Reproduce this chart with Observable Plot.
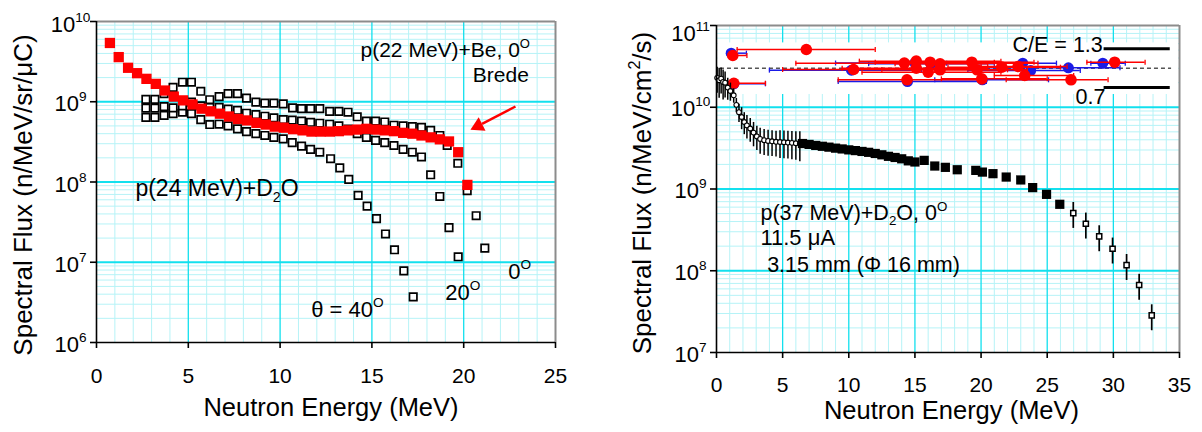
<!DOCTYPE html>
<html>
<head>
<meta charset="utf-8">
<script src="https://cdn.jsdelivr.net/npm/d3@7"></script>
<script src="https://cdn.jsdelivr.net/npm/@observablehq/plot@0.6"></script>
<style>
  html, body { margin: 0; padding: 0; background: #fff; }
  #chart { position: relative; width: 1202px; height: 432px; overflow: hidden; background: #fff; }
  #chart svg { position: absolute; left: 0; top: 0; }
</style>
</head>
<body>
<div id="chart"></div>
<script>
// ================= LEFT PANEL DATA =================
const leftXTicks = [0, 5, 10, 15, 20, 25];
const leftYTicks = [1e6, 1e7, 1e8, 1e9, 1e10];

// p(22 MeV)+Be, 0 deg (Brede) - red filled squares
const bredeE = [0.73,1.21,1.72,2.21,2.72,3.23,3.72,4.21,4.72,5.23,5.72,6.21,6.72,7.22,7.71,8.2,8.71,9.22,9.71,10.2,
                10.71,11.22,11.71,12.2,12.71,13.2,13.7,14.2,14.7,15.2,15.7,16.2,16.7,17.2,17.7,18.2,18.7,19.2,19.7,20.2];
const bredeFlux = [5.4e9,3.6e9,2.65e9,2.27e9,1.93e9,1.67e9,1.38e9,1.16e9,1.04e9,9.25e8,8.2e8,7.6e8,7.1e8,6.55e8,6.1e8,5.85e8,5.45e8,5.2e8,4.9e8,4.75e8,
                   4.55e8,4.4e8,4.25e8,4.25e8,4.25e8,4.3e8,4.4e8,4.5e8,4.6e8,4.5e8,4.4e8,4.3e8,4.1e8,4.0e8,3.8e8,3.6e8,3.4e8,3.2e8,2.35e8,9.2e7];

// p(24 MeV)+D2O - open squares, three angles
const deg0E = [2.69,3.18,3.68,4.17,4.68,5.17,5.68,6.17,6.68,7.17,7.68,8.17,8.68,9.17,9.66,10.17,10.68,11.17,11.66,12.16,
               12.7,13.2,13.7,14.2,14.7,15.2,15.7,16.2,16.7,17.2,17.7,18.2,18.7,19.1,19.68,20.19,20.68,21.15];
const deg0Flux = [1.07e9,1.07e9,1.26e9,1.51e9,1.75e9,1.75e9,1.35e9,1.06e9,1.16e9,1.26e9,1.26e9,1.11e9,9.9e8,9.6e8,9.6e8,9.4e8,8.4e8,8.2e8,8.2e8,8.2e8,
                  7.6e8,7.6e8,7.4e8,6.5e8,5.75e8,5.75e8,5.6e8,5.1e8,5.0e8,4.9e8,4.8e8,4.4e8,3.8e8,2.85e8,1.71e8,7.8e7,3.8e7,1.5e7];
const deg20E = [2.69,3.18,3.68,4.17,4.68,5.17,5.68,6.17,6.68,7.17,7.68,8.17,8.68,9.17,9.66,10.17,10.66,11.17,11.66,12.16,
                12.7,13.2,13.7,14.2,14.7,15.2,15.7,16.2,16.7,17.2,17.7,18.2,18.7,19.2,19.7];
const deg20Flux = [8.3e8,8.3e8,8.7e8,8.4e8,8.9e8,9.9e8,8.9e8,8.5e8,8.5e8,8.1e8,7.8e8,7.2e8,6.9e8,6.6e8,6.3e8,6.0e8,5.9e8,5.75e8,5.55e8,5.4e8,
                   5.25e8,5.0e8,4.55e8,4.0e8,3.6e8,3.3e8,3.1e8,2.85e8,2.55e8,2.35e8,2.05e8,1.23e8,6.6e7,2.7e7,1.17e7];
const deg40E = [2.69,3.18,3.68,4.17,4.68,5.17,5.68,6.17,6.68,7.17,7.68,8.17,8.68,9.17,9.66,10.17,10.66,11.17,11.66,12.16,
                12.75,13.25,13.74,14.25,14.74,15.25,15.74,16.23,16.74,17.25];
const deg40Flux = [6.4e8,6.4e8,6.75e8,7.1e8,7.4e8,7.1e8,6.0e8,5.2e8,5.25e8,5.0e8,4.6e8,4.25e8,4.0e8,3.8e8,3.6e8,3.45e8,3.1e8,2.8e8,2.55e8,2.35e8,
                   1.95e8,1.5e8,1.08e8,6.8e7,5.0e7,3.5e7,2.25e7,1.43e7,7.8e6,3.7e6];

// ================= RIGHT PANEL DATA =================
const rightXTicks = [0, 5, 10, 15, 20, 25, 30, 35];
const rightYTicks = [1e7, 1e8, 1e9, 1e10, 1e11];

// p(37 MeV)+D2O, 0 deg: open circles (low energy) with relative errors
const circE = [0.05,0.2,0.35,0.5,0.65,0.85,1.05,1.3,1.5,1.7,1.9,2.1,2.3,2.55,2.8,3.05,3.3,3.6,3.9,4.2,4.5,4.8,5.1,5.4,5.7,6.0,6.3];
const circFlux = [2.29e10,2.14e10,2.24e10,2.04e10,2.0e10,1.74e10,1.58e10,1.4e10,1.07e10,8.7e9,7.6e9,6.6e9,6.0e9,5.5e9,4.9e9,4.4e9,4.1e9,3.96e9,3.87e9,3.83e9,3.78e9,3.76e9,3.73e9,3.7e9,3.67e9,3.63e9,3.59e9];
const circErr = [0.35,0.4,0.35,0.4,0.35,0.3,0.25,0.2,0.2,0.25,0.3,0.3,0.32,0.32,0.33,0.33,0.35,0.35,0.35,0.35,0.35,0.37,0.37,0.37,0.38,0.38,0.4];
// filled squares
const fillE = [6.5,7,7.5,8,8.5,9,9.5,10,10.5,11,11.5,12,12.5,13,13.5,14,14.5,15.0,15.7,16.5,17.3,18.2,19.6,20.1,20.9,21.9,23.0,23.9,24.95,25.95];
const fillFlux = [3.6e9,3.51e9,3.41e9,3.33e9,3.25e9,3.16e9,3.09e9,3.01e9,2.95e9,2.88e9,2.81e9,2.72e9,2.62e9,2.51e9,2.43e9,2.34e9,2.21e9,2.14e9,
                  2.24e9,1.91e9,1.84e9,1.72e9,1.69e9,1.61e9,1.54e9,1.4e9,1.29e9,1.04e9,8.6e8,6.5e8];
// open squares (high-energy tail) with relative errors
const tailE = [26.97,27.92,28.93,29.94,31.0,31.95,32.9];
const tailFlux = [5.07e8,3.76e8,2.63e8,1.86e8,1.17e8,6.7e7,2.84e7];
const tailErr = [0.35,0.35,0.35,0.35,0.35,0.35,0.35];

// C/E inset
const ceLevels = [1.3, 0.7];
const ceRedE   = [1.23,6.79,1.31,10.36,14.2,15.1,15.1,16.15,16.9,16.0,16.9,14.4,19.3,19.7,20.05,21.56,22.8,23.3,26.8,30.1];
const ceRedVal = [1.197,1.29,0.767,0.98,1.078,1.109,1.0,1.093,1.068,0.938,0.975,0.82,1.093,0.975,0.835,1.016,1.026,0.887,0.82,1.093];
const ceRedLo  = [0.9,1.56,0.9,5.0,6.0,10.8,9.5,12.0,13.5,11.0,12.5,9.2,15.0,16.5,17.0,17.5,20.0,21.0,21.9,28.0];
const ceRedHi  = [2.3,12.0,3.7,16.0,24.3,21.5,20.5,21.0,20.5,21.5,22.0,20.4,24.0,23.5,25.0,26.0,26.5,27.0,29.6,32.4];
const ceBlueE   = [1.11,1.31,10.2,14.44,15.0,16.2,20.1,23.15,23.75,26.6,29.2];
const ceBlueVal = [1.233,0.758,0.97,0.794,1.08,1.07,0.82,1.078,0.964,1.006,1.078];
const ceBlueLo  = [0.8,0.9,4.0,9.2,9.0,11.5,16.5,17.4,19.0,20.0,28.3];
const ceBlueHi  = [2.26,3.7,15.5,20.4,19.5,21.0,25.1,25.7,27.5,30.5,30.9];

// ================= TEXT =================
const xTitle = "Neutron Energy (MeV)";
const leftYTitle = "Spectral Flux (n/MeV/sr/μC)";
const rightYTitle = "Spectral Flux (n/MeV/cm^{2}/s)";

// ================= STYLE =================
const FONT = "'Liberation Sans', Arial, Helvetica, sans-serif";
const GRID_MAJOR = "#12e0ee";
const GRID_MINOR = "#b6f3f7";
const FRAME_GRAY = "#8c8c8c";
const RED = "#ff0000";
const BLUE = "#1a1ae6";

const logMinor = (lo, hi) => { const o = []; for (let e = lo; e < hi; e++) for (let k = 2; k <= 9; k++) o.push(k * 10 ** e); return o; };
const linMinor = (max) => d3.range(1, max).filter(i => i % 5 !== 0);
const pts = (E, F) => E.map((e, i) => ({e, f: F[i]}));
const errPts = (E, F, R) => E.map((e, i) => ({e, f: F[i], lo: F[i] * (1 - R[i]), hi: F[i] * (1 + R[i])}));
const cePts = (E, V, L, H) => E.map((e, i) => ({e, v: V[i], lo: L[i], hi: H[i]}));
const expLabel = d => `10^{${Math.round(Math.log10(d))}}`;
const vbar = { draw(ctx, size) { const h = Math.sqrt(size / Math.PI); ctx.moveTo(0, -h); ctx.lineTo(0, h); } };

const common = {width: 1202, height: 432, style: {fontFamily: FONT, background: "transparent", color: "black", overflow: "visible"}};

// ================= LEFT PLOT =================
const leftPlot = Plot.plot({
  ...common,
  marginLeft: 96, marginRight: 647, marginTop: 21, marginBottom: 90,
  x: {domain: [0, 25]},
  y: {type: "log", domain: [1e6, 1e10]},
  marks: [
    Plot.ruleX(linMinor(25), {stroke: GRID_MINOR, strokeWidth: 1}),
    Plot.ruleY(logMinor(6, 10), {stroke: GRID_MINOR, strokeWidth: 1}),
    Plot.ruleX([5, 10, 15, 20], {stroke: GRID_MAJOR, strokeWidth: 1.3}),
    Plot.ruleY([1e7, 1e8, 1e9], {stroke: GRID_MAJOR, strokeWidth: 2}),
    Plot.ruleY([1e10], {stroke: FRAME_GRAY, strokeWidth: 2}),
    Plot.ruleX([25], {stroke: FRAME_GRAY, strokeWidth: 2}),
    Plot.dot(pts(deg40E, deg40Flux), {x: "e", y: "f", symbol: "square", r: 4.2, fill: "white", stroke: "black", strokeWidth: 1.7}),
    Plot.dot(pts(deg20E, deg20Flux), {x: "e", y: "f", symbol: "square", r: 4.2, fill: "white", stroke: "black", strokeWidth: 1.7}),
    Plot.dot(pts(deg0E, deg0Flux), {x: "e", y: "f", symbol: "square", r: 4.2, fill: "white", stroke: "black", strokeWidth: 1.7}),
    Plot.dot(pts(bredeE, bredeFlux), {x: "e", y: "f", symbol: "square", r: 5.8, fill: RED}),
    Plot.link([{x1: 22.82, y1: 8.73e8, x2: 21.0, y2: 5.3e8}], {x1: "x1", y1: "y1", x2: "x2", y2: "y2", stroke: RED, strokeWidth: 2.5}),
    Plot.dot([{x: 20.79, y: 5.0e8}], {x: "x", y: "y", symbol: "triangle", r: 5.6, fill: RED, rotate: -117}),
    Plot.ruleX([0], {stroke: "black", strokeWidth: 1.6}),
    Plot.ruleY([1e6], {stroke: "black", strokeWidth: 1.6}),
    Plot.axisX({ticks: leftXTicks, tickSize: 6, tickPadding: 20, fontSize: 21, tickFormat: d => String(d), strokeWidth: 1.6, label: null}),
    Plot.axisY({ticks: leftYTicks, tickSize: 6, tickFormat: () => "", strokeWidth: 1.6, label: null}),
    Plot.text(leftYTicks.slice(0, -1), {y: d => d, text: expLabel, frameAnchor: "left", textAnchor: "middle", dx: -26, dy: 2.5, fontSize: 22}),
    Plot.text(leftYTicks.slice(-1), {y: d => d, text: expLabel, frameAnchor: "left", textAnchor: "middle", dx: -26, dy: 3.5, fontSize: 22}),
    Plot.text([xTitle], {text: d => d, frameAnchor: "bottom", textAnchor: "middle", dy: 73, dx: 5, fontSize: 25.5}),
    Plot.text([leftYTitle], {text: d => d, frameAnchor: "left", textAnchor: "middle", rotate: -90, dx: -72.6, dy: 13, fontSize: 26}),
    Plot.text(["p(22 MeV)+Be, 0^{O}"], {text: d => d, x: 14.38, y: 3.56e9, textAnchor: "start", lineAnchor: "bottom", fontSize: 21}),
    Plot.text(["Brede"], {text: d => d, x: 23.55, y: 1.75e9, textAnchor: "end", lineAnchor: "bottom", fontSize: 21}),
    Plot.text(["p(24 MeV)+D_{2}O"], {text: d => d, x: 2.12, y: 6.6e7, textAnchor: "start", lineAnchor: "bottom", fontSize: 23}),
    Plot.text(["θ = 40^{O}"], {text: d => d, x: 11.69, y: 2.07e6, textAnchor: "start", lineAnchor: "bottom", fontSize: 22}),
    Plot.text(["20^{O}"], {text: d => d, x: 19.0, y: 3.43e6, textAnchor: "start", lineAnchor: "bottom", fontSize: 22}),
    Plot.text(["0^{O}"], {text: d => d, x: 22.42, y: 6.27e6, textAnchor: "start", lineAnchor: "bottom", fontSize: 22})
  ]
});

// ================= RIGHT PLOT: grid & axes =================
const rightScales = {
  marginLeft: 716, marginRight: 23, marginTop: 25, marginBottom: 80,
  x: {domain: [0, 35]},
  y: {type: "log", domain: [1e7, 1e11]}
};
const rightGrid = Plot.plot({
  ...common, ...rightScales,
  marks: [
    Plot.ruleX(linMinor(35), {stroke: GRID_MINOR, strokeWidth: 1}),
    Plot.ruleY(logMinor(7, 11), {stroke: GRID_MINOR, strokeWidth: 1}),
    Plot.ruleX([5, 10, 15, 20, 25, 30], {stroke: GRID_MAJOR, strokeWidth: 1.3}),
    Plot.ruleY([1e8, 1e9, 1e10], {stroke: GRID_MAJOR, strokeWidth: 2}),
    Plot.ruleY([1e11], {stroke: FRAME_GRAY, strokeWidth: 2}),
    Plot.ruleX([35], {stroke: FRAME_GRAY, strokeWidth: 2}),
    Plot.axisX({ticks: rightXTicks, tickSize: 6, tickPadding: 19, fontSize: 21, tickFormat: d => String(d), strokeWidth: 1.6, label: null}),
    Plot.axisY({ticks: rightYTicks, tickSize: 6, tickFormat: () => "", strokeWidth: 1.6, label: null}),
    Plot.text(rightYTicks.slice(0, -1), {y: d => d, text: expLabel, frameAnchor: "left", textAnchor: "middle", dx: -26, dy: 2, fontSize: 22}),
    Plot.text(rightYTicks.slice(-1), {y: d => d, text: expLabel, frameAnchor: "left", textAnchor: "middle", dx: -26, dy: 8, fontSize: 22}),
    Plot.text([xTitle], {text: d => d, frameAnchor: "bottom", textAnchor: "middle", dy: 66.5, dx: 3.5, fontSize: 25.5}),
    Plot.text([rightYTitle], {text: d => d, frameAnchor: "left", textAnchor: "middle", rotate: -90, dx: -73.6, dy: 4, fontSize: 26})
  ]
});

// ================= RIGHT PLOT: C/E inset =================
const inset = Plot.plot({
  ...common,
  marginLeft: 716, marginRight: 23, marginTop: 41.9, marginBottom: 338.5,
  x: {domain: [0, 35], axis: null},
  y: {domain: [0.6, 1.4], axis: null},
  marks: [
    Plot.frame({fill: "white", stroke: "none", insetLeft: 1, insetRight: 1.5}),
    Plot.ruleY([1], {x1: 0.3, x2: 34.4, stroke: "#555", strokeWidth: 1.5, strokeDasharray: "4,3"}),
    Plot.ruleY(ceLevels, {x1: 29.3, x2: 34.3, stroke: "black", strokeWidth: 3}),
    Plot.text(["C/E = 1.3"], {text: d => d, x: 29.2, y: 1.3, textAnchor: "end", dy: -3.6, fontSize: 21.5}),
    Plot.text(["0.7"], {text: d => d, x: 29.4, y: 0.7, textAnchor: "end", dy: 9.6, fontSize: 21.5}),
    Plot.ruleY(cePts(ceBlueE, ceBlueVal, ceBlueLo, ceBlueHi), {y: "v", x1: "lo", x2: "hi", stroke: BLUE, strokeWidth: 1.5}),
    Plot.dot(cePts(ceBlueE, ceBlueVal, ceBlueLo, ceBlueHi), {x: "lo", y: "v", symbol: vbar, r: 2.5, fill: "none", stroke: BLUE, strokeWidth: 1.3}),
    Plot.dot(cePts(ceBlueE, ceBlueVal, ceBlueLo, ceBlueHi), {x: "hi", y: "v", symbol: vbar, r: 2.5, fill: "none", stroke: BLUE, strokeWidth: 1.3}),
    Plot.dot(cePts(ceBlueE, ceBlueVal, ceBlueLo, ceBlueHi), {x: "e", y: "v", r: 5.5, fill: BLUE}),
    Plot.ruleY(cePts(ceRedE, ceRedVal, ceRedLo, ceRedHi), {y: "v", x1: "lo", x2: "hi", stroke: RED, strokeWidth: 1.5}),
    Plot.dot(cePts(ceRedE, ceRedVal, ceRedLo, ceRedHi), {x: "lo", y: "v", symbol: vbar, r: 2.5, fill: "none", stroke: RED, strokeWidth: 1.3}),
    Plot.dot(cePts(ceRedE, ceRedVal, ceRedLo, ceRedHi), {x: "hi", y: "v", symbol: vbar, r: 2.5, fill: "none", stroke: RED, strokeWidth: 1.3}),
    Plot.dot(cePts(ceRedE, ceRedVal, ceRedLo, ceRedHi), {x: "e", y: "v", r: 5.8, fill: RED})
  ]
});

// ================= RIGHT PLOT: spectrum =================
const rightData = Plot.plot({
  ...common,
  marginLeft: 716, marginRight: 23, marginTop: 25, marginBottom: 80,
  x: {domain: [0, 35], axis: null},
  y: {type: "log", domain: [1e7, 1e11], axis: null},
  marks: [
    Plot.ruleX(errPts(circE, circFlux, circErr), {x: "e", y1: "lo", y2: "hi", stroke: "black", strokeWidth: 1.5}),
    Plot.dot(pts(circE, circFlux), {x: "e", y: "f", r: 2.4, fill: "white", stroke: "black", strokeWidth: 1.1}),
    Plot.dot(pts(fillE, fillFlux), {x: "e", y: "f", symbol: "square", r: 5.2, fill: "black"}),
    Plot.ruleX(errPts(tailE, tailFlux, tailErr), {x: "e", y1: "lo", y2: "hi", stroke: "black", strokeWidth: 1.7}),
    Plot.dot(pts(tailE, tailFlux), {x: "e", y: "f", symbol: "square", r: 2.9, fill: "white", stroke: "black", strokeWidth: 1.5}),
    Plot.ruleX([0], {stroke: "black", strokeWidth: 1.6}),
    Plot.ruleY([1e7], {stroke: "black", strokeWidth: 1.6}),
    Plot.text(["p(37 MeV)+D_{2}O, 0^{O}"], {text: d => d, x: 3.32, y: 4.13e8, textAnchor: "start", lineAnchor: "bottom", fontSize: 21.5}),
    Plot.text(["11.5 μA"], {text: d => d, x: 3.32, y: 2.04e8, textAnchor: "start", lineAnchor: "bottom", fontSize: 22}),
    Plot.text(["3.15 mm (Φ 16 mm)"], {text: d => d, x: 3.83, y: 9.6e7, textAnchor: "start", lineAnchor: "bottom", fontSize: 21.5})
  ]
});

const chart = document.getElementById("chart");
[leftPlot, rightGrid, inset, rightData].forEach(p => chart.appendChild(p));

// Rich text: ^{..} superscript, _{..} subscript, rendered as tspans
function richify(root) {
  root.querySelectorAll("text").forEach(t => {
    const s = t.textContent;
    if (!/[\^_]\{/.test(s)) return;
    const fs = parseFloat(getComputedStyle(t).fontSize) || 20;
    const small = fs * 0.62;
    const parts = [];
    const re = /([\^_])\{([^}]*)\}/g;
    let last = 0, m;
    while ((m = re.exec(s))) {
      if (m.index > last) parts.push({t: s.slice(last, m.index)});
      parts.push({t: m[2], k: m[1]});
      last = re.lastIndex;
    }
    if (last < s.length) parts.push({t: s.slice(last)});
    while (t.firstChild) t.removeChild(t.firstChild);
    let cur = 0;
    for (const p of parts) {
      const ts = document.createElementNS("http://www.w3.org/2000/svg", "tspan");
      const target = p.k === "^" ? -fs * 0.45 : p.k === "_" ? fs * 0.22 : 0;
      if (target - cur !== 0) ts.setAttribute("dy", (target - cur).toFixed(2));
      cur = target;
      if (p.k) ts.setAttribute("font-size", small.toFixed(2));
      ts.textContent = p.t;
      t.appendChild(ts);
    }
  });
}
richify(chart);
</script>
</body>
</html>
